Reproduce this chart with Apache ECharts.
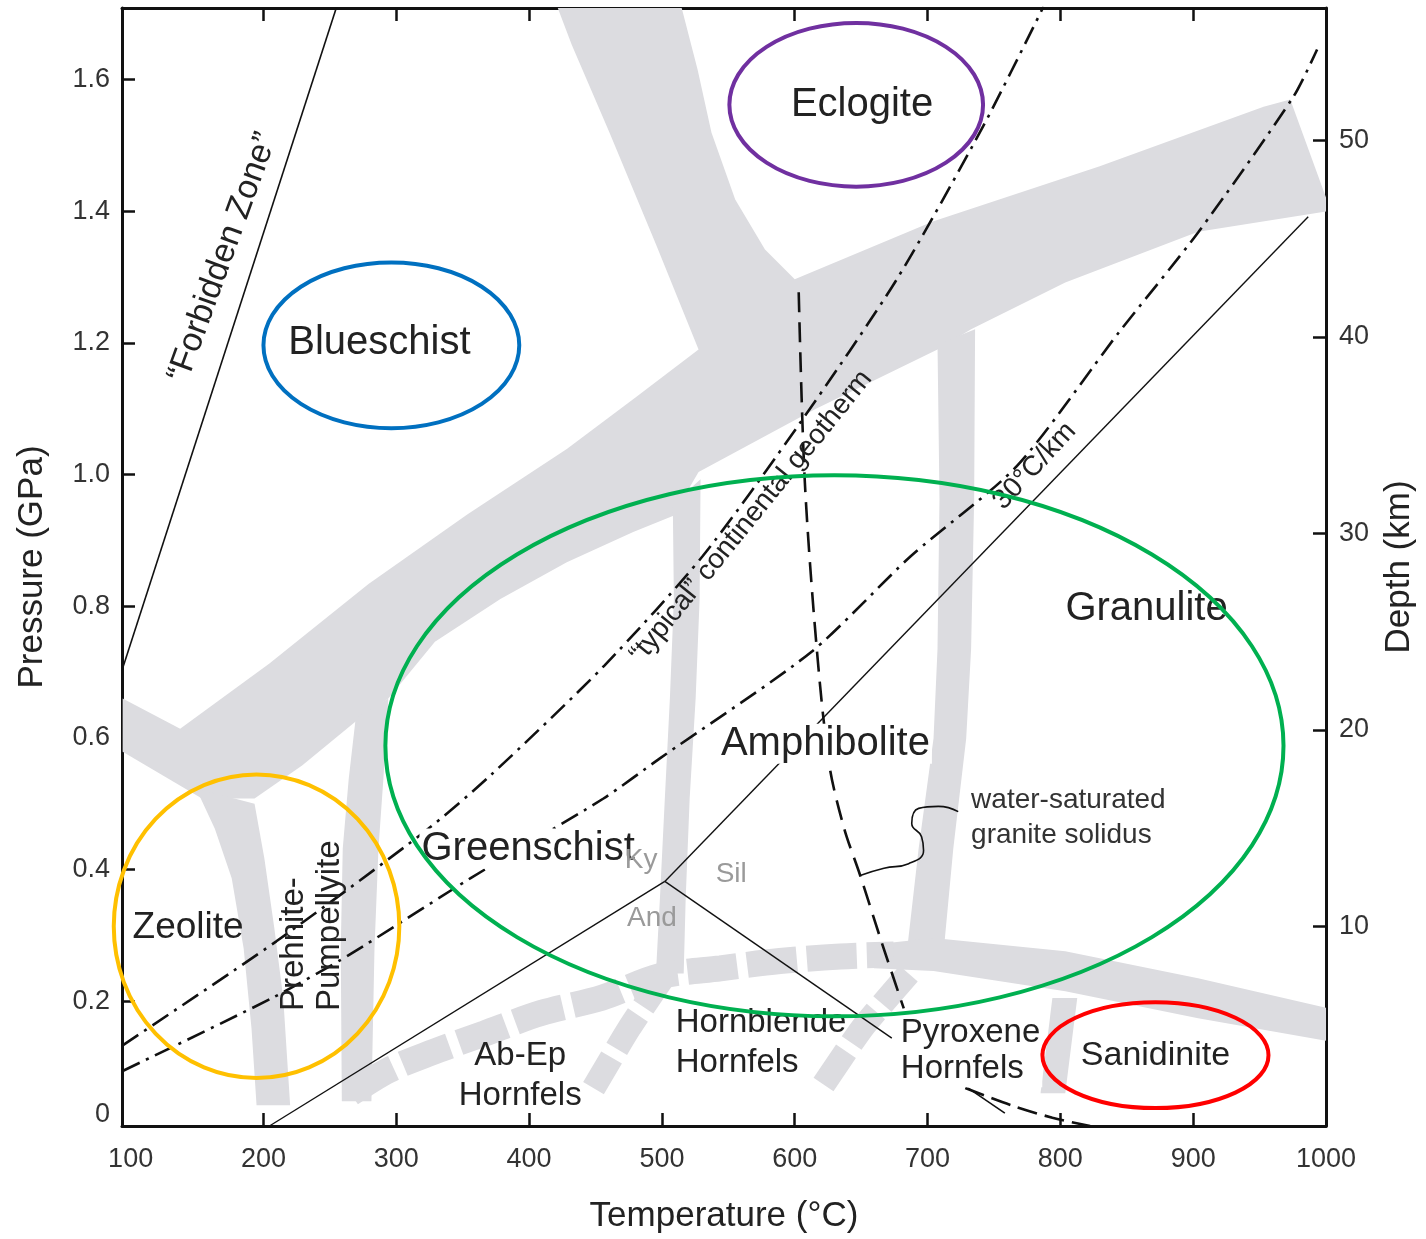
<!DOCTYPE html>
<html><head><meta charset="utf-8">
<script src="https://cdn.jsdelivr.net/npm/echarts@6/dist/echarts.min.js"></script>
<style>html,body{margin:0;padding:0;background:#fff}#c{width:1426px;height:1239px}</style>
</head><body><div id="c"></div>
<script>
// ---------- axes ----------
const tempTicks = [100, 200, 300, 400, 500, 600, 700, 800, 900, 1000];
const tempTickMarks = [200, 300, 400, 500, 600, 700, 800, 900];
const pressureTicks = [0, 0.2, 0.4, 0.6, 0.8, 1.0, 1.2, 1.4, 1.6];
const depthTicks = [10, 20, 30, 40, 50];
const T_MIN = 93.5, T_MAX = 1000, P_MIN = 0.0104, P_MAX = 1.709, D_MIN = -0.17, D_MAX = 56.75;

// ---------- lines (T °C, P GPa) ----------
const forbiddenZoneLine = [[93.5, 0.703], [255, 1.710]];
const kyaniteSillimaniteLine = [[502.2, 0.382], [986.6, 1.392]];
const andalusiteKyaniteLine = [[204.5, 0.0104], [502.2, 0.382]];
const andalusiteSillimaniteLine = [[502.2, 0.382], [673.1, 0.144]];
const typicalGeotherm = [[94.0, 0.133], [209.7, 0.291], [321.6, 0.458], [370.9, 0.543], [456.7, 0.710], [530.6, 0.876], [604.5, 1.080], [676.9, 1.297], [741.8, 1.529], [787.3, 1.711]];
const geotherm30 = [[94.0, 0.094], [206.7, 0.205], [264.2, 0.270], [356.0, 0.387], [456.0, 0.508], [498.5, 0.569], [612.7, 0.731], [687.3, 0.876], [767.2, 1.013], [844.0, 1.216], [903.7, 1.368], [975.4, 1.574], [993.3, 1.646]];
const graniteSolidus = [[603.0, 1.277], [607.5, 0.993], [616.4, 0.740], [626.1, 0.558], [637.3, 0.462], [649.3, 0.391], [665.7, 0.288], [682.1, 0.189]];
const graniteSolidusLow = [[728.4, 0.068], [764.2, 0.041], [794.0, 0.023], [822.4, 0.0104]];
const solidusArrow = [[730.6, 0.068], [758.2, 0.030]];
const solidusLeader = [[723.1, 0.488], [708.2, 0.496], [693.3, 0.493], [688.1, 0.470], [695.5, 0.450], [697.0, 0.429], [685.8, 0.409], [667.2, 0.402], [649.3, 0.391]];

// ---------- facies boundary bands (polygons) ----------
const mainBand = [[94.0, 0.660], [137.3, 0.614], [204.5, 0.713], [279.1, 0.834], [353.7, 0.940], [428.4, 1.039], [480.6, 1.118], [527.6, 1.190],
  [495.5, 1.350], [460.5, 1.520], [432.1, 1.653], [421.6, 1.709], [514.9, 1.709], [526.9, 1.615], [537.3, 1.520], [555.2, 1.418], [577.6, 1.342], [600.0, 1.297],
  [704.5, 1.385], [829.1, 1.468], [953.0, 1.559], [973.1, 1.570], [1000, 1.421], [1000, 1.400], [903.7, 1.369], [803.7, 1.292], [732.8, 1.221], [707.5, 1.190],
  [614.9, 1.099], [527.6, 1.004], [508.2, 0.937], [478.4, 0.913], [428.4, 0.867], [378.4, 0.811], [329.1, 0.746], [294.0, 0.660], [269.4, 0.625],
  [229.1, 0.558], [193.3, 0.508], [153.7, 0.508], [94.0, 0.579]];
const zeoliteBand = [[149.3, 0.523], [163.4, 0.462], [176.1, 0.387], [185.1, 0.280], [191.0, 0.159], [194.8, 0.042], [220.1, 0.042], [214.9, 0.205], [208.2, 0.311], [200.7, 0.417], [193.3, 0.500]];
const prehniteBand = [[269.4, 0.629], [264.2, 0.538], [259.7, 0.432], [258.2, 0.280], [259.0, 0.048], [281.3, 0.048], [283.6, 0.280], [286.6, 0.432], [290.3, 0.538], [294.0, 0.660]];
const greenschistBand = [[508.2, 0.955], [509.0, 0.811], [506.0, 0.660], [502.2, 0.508], [498.5, 0.356], [495.5, 0.242], [516.4, 0.242], [517.9, 0.356], [520.9, 0.508], [525.4, 0.660], [528.4, 0.811], [529.1, 0.993]];
const granuliteBand = [[707.5, 1.198], [709.0, 0.963], [707.5, 0.735], [704.5, 0.599], [693.3, 0.432], [684.3, 0.273], [712.0, 0.273], [719.4, 0.432], [729.1, 0.599], [732.8, 0.735], [735.1, 0.963], [735.8, 1.221]];
const contactBandSolid = [[659.7, 0.286], [704.5, 0.296], [803.7, 0.276], [903.7, 0.235], [1000, 0.190], [1000, 0.140], [903.7, 0.174], [803.7, 0.215], [704.5, 0.246], [659.7, 0.250]];
const sanidiniteBand = [[794.0, 0.205], [812.7, 0.205], [803.7, 0.060], [785.1, 0.060]];
const bandPolygons = [mainBand, zeoliteBand, prehniteBand, greenschistBand, granuliteBand, contactBandSolid, sanidiniteBand];

// dashed gray bands (centre lines)
const contactBandDashed = [[265.7, 0.060], [294.0, 0.095], [325.4, 0.121], [366.4, 0.151], [409.0, 0.182], [454.5, 0.205], [498.5, 0.238], [544.0, 0.250], [588.8, 0.261], [634.3, 0.268], [674.6, 0.271]];
const abEpHornblendeBand = [[503.0, 0.242], [475.4, 0.159], [448.5, 0.068]];
const hornblendePyroxeneBand = [[685.8, 0.242], [650.8, 0.159], [620.9, 0.071]];

// ---------- highlight ellipses ----------
const ellipseCenter = [[296.3, 1.1965], [646.3, 1.562], [629.9, 0.588], [194.8, 0.3138], [871.6, 0.118]];
const ellipseRadius = [[96.3, 0.1259], [95.5, 0.1244], [338.1, 0.411], [107.5, 0.2306], [85.1, 0.0804]];
const ellipseColors = ['#0070c0', '#7030a0', '#00b050', '#ffc000', '#ff0000'];

// ---------- text labels ----------
const labelTexts = ['“Forbidden Zone”', 'Blueschist', 'Eclogite', 'Granulite', 'Amphibolite', 'Greenschist', 'Zeolite',
  'Prehnite-\nPumpellyite', 'Ab-Ep\nHornfels', 'Hornblende\nHornfels', 'Pyroxene\nHornfels', 'Sanidinite',
  'water-saturated\ngranite solidus', 'Ky', 'Sil', 'And', '“typical” continental geotherm', '30°C/km'];
const labelAnchors = [[169.4, 1.330], [287.3, 1.200], [650.7, 1.562], [864.9, 0.796], [623.1, 0.591], [399.3, 0.432], [143.3, 0.311],
  [236.6, 0.185], [393.3, 0.086], [510.4, 0.136], [678.4, 0.124], [871.6, 0.118],
  [732.8, 0.478], [484.3, 0.414], [552.2, 0.393], [492.5, 0.326], [567.2, 0.936], [780.6, 1.013]];

// styles per label: [fontSize, rotationDeg, align, color, whiteBg, lineHeight]
const labelStyle = [
  [34, 70, 'center', '#222', false, 36], [40, 0, 'center', '#222', false, 40], [40, 0, 'center', '#222', false, 40],
  [40, 0, 'center', '#222', false, 40], [40, 0, 'center', '#222', true, 40], [40, 0, 'center', '#222', true, 40],
  [37, 0, 'center', '#222', false, 40], [33, 90, 'left', '#222', false, 36], [33, 0, 'center', '#222', false, 40],
  [33, 0, 'left', '#222', false, 40], [33, 0, 'left', '#222', true, 36], [34, 0, 'center', '#222', false, 36],
  [28, 0, 'left', '#333', false, 35], [28, 0, 'center', '#9a9a9a', false, 30], [28, 0, 'center', '#9a9a9a', false, 30],
  [28, 0, 'center', '#9a9a9a', false, 30], [28, 51, 'center', '#222', false, 30], [28, 47, 'center', '#222', false, 30]
];

const FONT = '"Liberation Sans", Arial, Helvetica, sans-serif';
const GRAY = '#dcdce0';
const INK = '#111';

const chart = echarts.init(document.getElementById('c'), null, {renderer: 'canvas'});

function lineSeries(data, width, type, smooth, z, color) {
  return {type: 'line', data: data, showSymbol: false, symbol: 'none', smooth: smooth || false, z: z || 3, silent: true,
    lineStyle: {color: color || INK, width: width, type: type || 'solid', cap: 'butt'}};
}

const series = [
  {
    type: 'custom', coordinateSystem: 'cartesian2d', z: 1, silent: true, clip: true,
    data: bandPolygons.map((b, i) => [b[0][0], b[0][1], i]),
    renderItem: function (params, api) {
      const b = bandPolygons[params.dataIndex];
      return {type: 'polygon', shape: {points: b.map(p => api.coord(p))}, style: {fill: GRAY, stroke: null}};
    }
  },
  lineSeries(contactBandDashed, 26, [50, 10], 0.3, 1, GRAY),
  lineSeries(abEpHornblendeBand, 24, [40, 10], 0.2, 1, GRAY),
  lineSeries(hornblendePyroxeneBand, 24, [40, 10], 0.2, 1, GRAY),
  lineSeries(forbiddenZoneLine, 1.6),
  lineSeries(kyaniteSillimaniteLine, 1.4),
  lineSeries(andalusiteKyaniteLine, 1.4),
  lineSeries(andalusiteSillimaniteLine, 1.4),
  lineSeries(typicalGeotherm, 2.6, [19, 7, 3, 7], 0.25),
  lineSeries(geotherm30, 2.6, [19, 7, 3, 7], 0.25),
  lineSeries(graniteSolidus, 2.6, [20, 10], 0.3),
  lineSeries(graniteSolidusLow, 2.6, [20, 8], 0.3),
  lineSeries(solidusArrow, 1.6),
  lineSeries(solidusLeader, 1.6, 'solid', 0.5),
  {
    type: 'custom', coordinateSystem: 'cartesian2d', z: 5, silent: true,
    data: labelAnchors.map((a, i) => [a[0], a[1], i]),
    renderItem: function (params, api) {
      const i = params.dataIndex;
      const s = labelStyle[i];
      const pt = api.coord(labelAnchors[i]);
      const st = {text: labelTexts[i], fill: s[3], font: s[0] + 'px ' + FONT, align: s[2], verticalAlign: 'middle', lineHeight: s[5]};
      if (s[4]) { st.backgroundColor = '#fff'; st.padding = [0, 2]; }
      return {type: 'text', x: pt[0], y: pt[1], rotation: s[1] * Math.PI / 180, style: st};
    }
  },
  {
    type: 'custom', coordinateSystem: 'cartesian2d', z: 6, silent: true, clip: false,
    data: ellipseCenter.map((c, i) => [c[0], c[1], i]),
    renderItem: function (params, api) {
      const i = params.dataIndex;
      const c = api.coord(ellipseCenter[i]);
      const e = api.coord([ellipseCenter[i][0] + ellipseRadius[i][0], ellipseCenter[i][1] + ellipseRadius[i][1]]);
      const rx = Math.abs(e[0] - c[0]), ry = Math.abs(c[1] - e[1]);
      const d = 'M ' + (c[0] - rx) + ' ' + c[1] + ' A ' + rx + ' ' + ry + ' 0 1 0 ' + (c[0] + rx) + ' ' + c[1] +
        ' A ' + rx + ' ' + ry + ' 0 1 0 ' + (c[0] - rx) + ' ' + c[1] + ' Z';
      return {type: 'path', shape: {pathData: d}, style: {fill: 'none', stroke: ellipseColors[i], lineWidth: 4}};
    }
  }
];

const axisLine = {show: true, onZero: false, lineStyle: {color: INK, width: 3}};
const tickStyle = {color: INK, width: 2.5};

chart.setOption({
  animation: false,
  backgroundColor: '#fff',
  grid: {left: 122, right: 100, top: 8, bottom: 111, containLabel: false},
  xAxis: [
    {type: 'value', position: 'bottom', min: T_MIN, max: T_MAX, axisLine: axisLine,
      axisTick: {show: true, inside: true, length: 13, lineStyle: tickStyle, customValues: tempTickMarks},
      axisLabel: {customValues: tempTicks, fontSize: 27, color: '#333', margin: 20, fontFamily: FONT,
        formatter: function (v) { return String(Math.round(v)); }},
      splitLine: {show: false},
      name: 'Temperature (°C)', nameLocation: 'middle', nameGap: 73,
      nameTextStyle: {fontSize: 35, color: '#222', fontFamily: FONT}},
    {type: 'value', position: 'top', min: T_MIN, max: T_MAX, axisLine: axisLine,
      axisTick: {show: true, inside: true, length: 13, lineStyle: tickStyle, customValues: tempTickMarks},
      axisLabel: {show: false}, splitLine: {show: false}}
  ],
  yAxis: [
    {type: 'value', position: 'left', min: P_MIN, max: P_MAX, axisLine: axisLine,
      axisTick: {show: true, inside: true, length: 13, lineStyle: tickStyle, customValues: pressureTicks.filter(v => v > 0)},
      axisLabel: {customValues: pressureTicks.map(v => Math.max(v, P_MIN)), fontSize: 27, color: '#333', margin: 12, fontFamily: FONT,
        formatter: function (v) { return v < 0.1 ? '{z|0}' : v.toFixed(1); },
        rich: {z: {fontSize: 27, color: '#333', fontFamily: FONT, padding: [0, 0, 22, 0]}}},
      splitLine: {show: false},
      name: 'Pressure (GPa)', nameLocation: 'middle', nameGap: 72, nameRotate: 90,
      nameTextStyle: {fontSize: 35, color: '#222', fontFamily: FONT}},
    {type: 'value', position: 'right', min: D_MIN, max: D_MAX, axisLine: axisLine,
      axisTick: {show: true, inside: true, length: 13, lineStyle: tickStyle, customValues: depthTicks},
      axisLabel: {customValues: depthTicks, fontSize: 27, color: '#333', margin: 13, fontFamily: FONT},
      splitLine: {show: false},
      name: 'Depth (km)', nameLocation: 'middle', nameGap: 56, nameRotate: 90,
      nameTextStyle: {fontSize: 35, color: '#222', fontFamily: FONT}}
  ],
  series: series
});
</script>
</body></html>
